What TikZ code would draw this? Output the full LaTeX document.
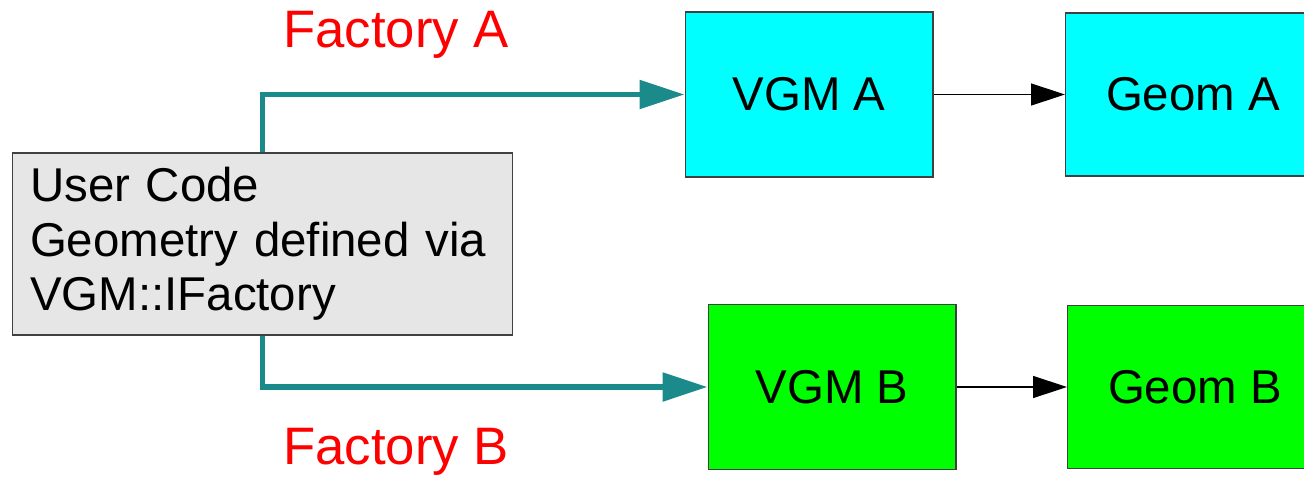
\documentclass[tikz,border=0pt]{standalone}
\usepackage{fontspec}
\setmainfont{Liberation Sans}
\usetikzlibrary{arrows.meta,positioning}

\definecolor{boxgray}{RGB}{230,230,230}
\definecolor{boxcyan}{RGB}{0,255,255}
\definecolor{boxgreen}{RGB}{0,255,0}
\definecolor{flowteal}{RGB}{26,138,138}

\tikzset{
  box/.style={draw=black!75, line width=0.6pt, font=\fontsize{27}{31}\selectfont,
    inner sep=0pt},
  vgmbox/.style={box, minimum width=4.96cm, minimum height=3.3cm},
  geombox/.style={box, minimum width=5.1cm, minimum height=3.26cm},
  flow/.style={flowteal, line width=3.2pt,
    -{Triangle[length=0.9cm, width=0.56cm]}},
  link/.style={black, line width=0.8pt,
    -{Triangle[length=0.68cm, width=0.44cm]}},
  factory/.style={red, font=\fontsize{30}{36}\selectfont},
}

\begin{document}
\begin{tikzpicture}[x=0.02cm, y=-0.02cm]
  \clip (0,0) rectangle (1304,477);
  % user code box
  \node[box, fill=boxgray, minimum width=10.02cm, minimum height=3.64cm,
    align=left, text width=9.3cm] (user) at (262.5,244)
    {User Code\\Geometry defined via\\VGM::IFactory};
  % factory A branch
  \node[vgmbox, fill=boxcyan] (vgmA) at (809,94.5) {VGM A};
  \node[geombox, fill=boxcyan] (geomA) at (1193,94.5) {Geom A};
  % factory B branch
  \node[vgmbox, fill=boxgreen] (vgmB) at (832,387) {VGM B};
  \node[geombox, fill=boxgreen] (geomB) at (1195,387) {Geom B};
  \node[factory] (labA) at (396,35) {Factory A};
  \node[factory] (labB) at (396,452) {Factory B};
  \draw[flow] (user.north) |- (vgmA.west);
  \draw[flow] (user.south) |- (vgmB.west);
  \draw[link] (vgmA) -- (geomA);
  \draw[link] (vgmB) -- (geomB);
\end{tikzpicture}
\end{document}
